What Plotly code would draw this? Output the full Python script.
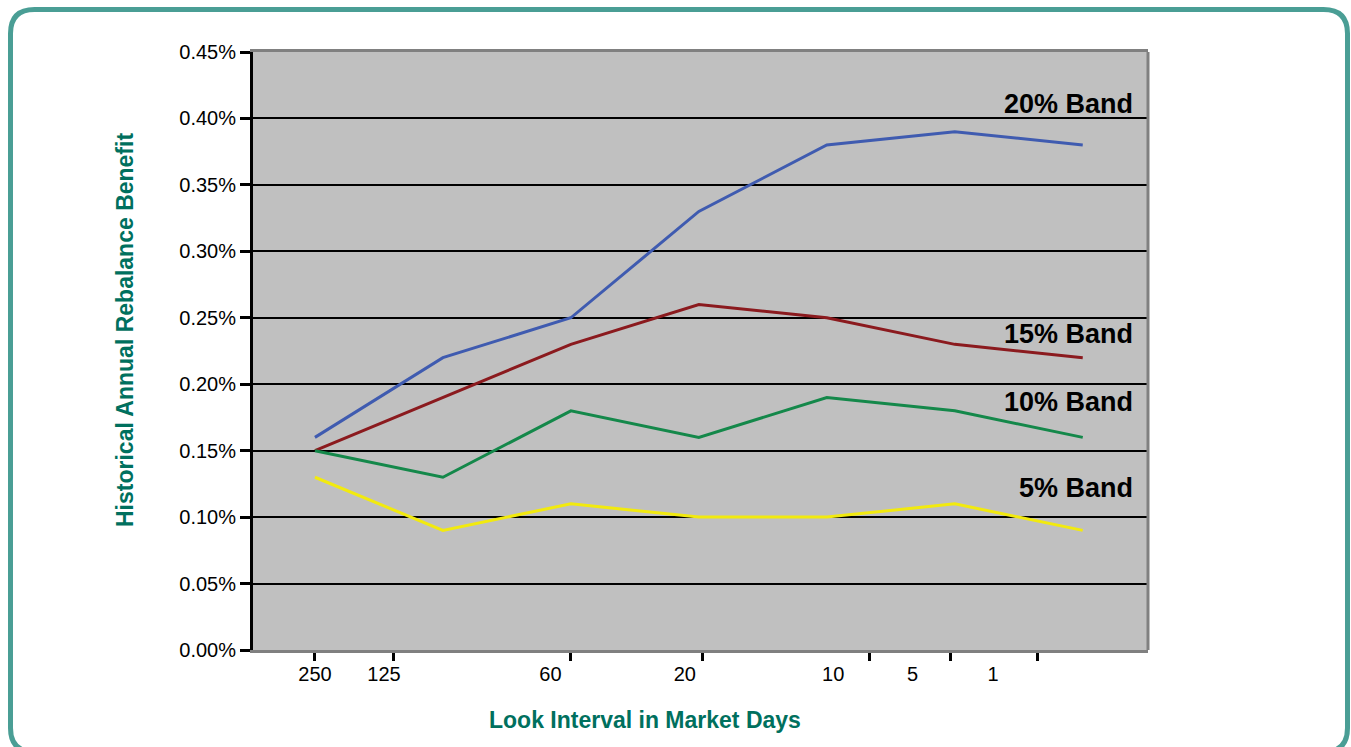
import plotly.graph_objects as go

# Look-interval steps along the x axis (one point per step)
steps = [0, 1, 2, 3, 4, 5, 6]

# Historical annual rebalance benefit, in percent
band_20 = [0.16, 0.22, 0.25, 0.33, 0.38, 0.39, 0.38]
band_15 = [0.15, 0.19, 0.23, 0.26, 0.25, 0.23, 0.22]
band_10 = [0.15, 0.13, 0.18, 0.16, 0.19, 0.18, 0.16]
band_5 = [0.13, 0.09, 0.11, 0.10, 0.10, 0.11, 0.09]

series_names = ["20% Band", "15% Band", "10% Band", "5% Band"]
series_values = [band_20, band_15, band_10, band_5]
series_colors = ["#3F5BB0", "#8B1A1E", "#14884A", "#F2EA0E"]
label_y = [0.411, 0.238, 0.187, 0.122]

# Look-interval tick labels (market days) and where they sit
tick_text = ["250", "125", "60", "20", "10", "5", "1"]
tick_label_pos = [0.0, 0.54, 1.84, 2.89, 4.05, 4.67, 5.30]
tick_mark_pos = [0.0, 0.61, 2.0, 3.03, 4.33, 4.97, 5.65]

W, H = 1351, 747
L, R, T, B = 253, 1148, 52, 650
x_range = [-0.484, 6.51]

TEAL = "#00705E"
FONT = "Liberation Sans, Arial, sans-serif"


def px(x):
    return (x - L) / (R - L)


def py(y):
    return (B - y) / (B - T)


def rounded_rect(x0, y0, x1, y1, r):
    pts = [
        f"M {px(x0 + r)} {py(y0)}",
        f"L {px(x1 - r)} {py(y0)}",
        f"Q {px(x1)} {py(y0)} {px(x1)} {py(y0 + r)}",
        f"L {px(x1)} {py(y1 - r)}",
        f"Q {px(x1)} {py(y1)} {px(x1 - r)} {py(y1)}",
        f"L {px(x0 + r)} {py(y1)}",
        f"Q {px(x0)} {py(y1)} {px(x0)} {py(y1 - r)}",
        f"L {px(x0)} {py(y0 + r)}",
        f"Q {px(x0)} {py(y0)} {px(x0 + r)} {py(y0)}",
        "Z",
    ]
    return " ".join(pts)


fig = go.Figure()

for name, vals, color in zip(series_names, series_values, series_colors):
    fig.add_trace(go.Scatter(
        x=steps, y=vals, mode="lines", name=name,
        line=dict(color=color, width=3),
        showlegend=False,
    ))

# carrier trace for the label axis
fig.add_trace(go.Scatter(
    x=tick_label_pos, y=[0] * len(tick_label_pos), xaxis="x2",
    mode="markers", marker=dict(opacity=0), hoverinfo="skip", showlegend=False,
))

for name, yv in zip(series_names, label_y):
    fig.add_annotation(
        x=6.41, y=yv, xref="x", yref="y", text=f"<b>{name}</b>",
        showarrow=False, xanchor="right", yanchor="middle",
        font=dict(family=FONT, size=27, color="#000000"),
    )

fig.add_annotation(
    x=px(645), y=py(720), xref="paper", yref="paper",
    text="<b>Look Interval in Market Days</b>", showarrow=False,
    xanchor="center", yanchor="middle",
    font=dict(family=FONT, size=23, color=TEAL),
)
fig.add_annotation(
    x=px(125), y=py(330), xref="paper", yref="paper",
    text="<b>Historical Annual Rebalance Benefit</b>", showarrow=False,
    textangle=-90, xanchor="center", yanchor="middle",
    font=dict(family=FONT, size=23, color=TEAL),
)

# right edge of the plot frame
fig.add_shape(type="line", xref="paper", yref="paper", x0=1, x1=1, y0=0, y1=1,
              line=dict(color="#808080", width=3), layer="above")

# outer rounded frame
fig.add_shape(type="path", xref="paper", yref="paper",
              path=rounded_rect(10.5, 9.5, 1347.5, 752, 24),
              line=dict(color="#4A9E95", width=5), layer="above")

fig.update_layout(
    width=W, height=H,
    margin=dict(l=L, r=W - R, t=T, b=H - B),
    paper_bgcolor="#FFFFFF",
    plot_bgcolor="#C0C0C0",
    font=dict(family=FONT, size=20, color="#000000"),
    xaxis=dict(
        range=x_range, tickmode="array", tickvals=tick_mark_pos,
        ticktext=[""] * len(tick_mark_pos),
        ticks="outside", ticklen=8, tickwidth=3, tickcolor="#000000",
        showgrid=False, zeroline=False,
        showline=True, linecolor="#808080", linewidth=3, mirror=True,
    ),
    xaxis2=dict(
        range=x_range, overlaying="x", anchor="y", side="bottom",
        tickmode="array", tickvals=tick_label_pos, ticktext=tick_text,
        ticks="outside", ticklen=6, tickcolor="rgba(0,0,0,0)",
        showgrid=False, zeroline=False, showline=False,
        tickfont=dict(family=FONT, size=20, color="#000000"),
    ),
    yaxis=dict(
        range=[0, 0.45], tickmode="linear", tick0=0, dtick=0.05,
        tickformat=".2f", ticksuffix="%", showticksuffix="all",
        ticks="outside", ticklen=10, tickwidth=3, tickcolor="#000000",
        showgrid=True, gridcolor="#000000", gridwidth=2,
        zeroline=False, showline=True, linecolor="#000000", linewidth=3,
        tickfont=dict(family=FONT, size=20, color="#000000"),
    ),
)

fig.write_html("out.html")
